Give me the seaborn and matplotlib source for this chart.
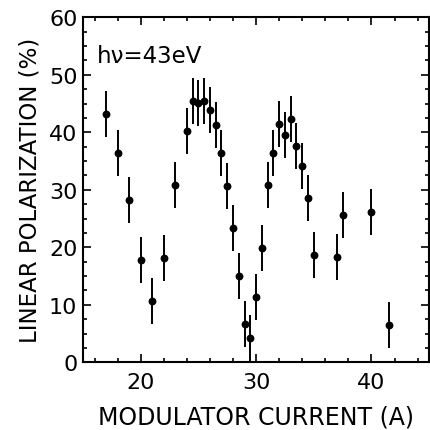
import matplotlib
matplotlib.use("Agg")
import matplotlib.pyplot as plt
import seaborn as sns
import pandas as pd
from matplotlib.ticker import MultipleLocator

# modulator current (A) and measured linear polarization (%)
current = [17, 18, 19, 20, 21, 22, 23, 24, 24.5, 25, 25.5, 26, 26.5, 27, 27.5,
           28, 28.5, 29, 29.5, 30, 30.5, 31, 31.5, 32, 32.5, 33, 33.5, 34, 34.5,
           35, 37, 37.5, 40, 41.5]
polarization = [43.2, 36.4, 28.2, 17.8, 10.7, 18.1, 30.8, 40.2, 45.5, 45.1, 45.4,
                43.9, 41.3, 36.4, 30.7, 23.3, 15.1, 6.7, 4.2, 11.4, 19.9, 30.8,
                36.4, 41.5, 39.5, 42.3, 37.6, 34.2, 28.5, 18.7, 18.3, 25.7, 26.2, 6.5]
uncertainty = [4.0] * len(current)

df = pd.DataFrame({"current": current, "pol": polarization, "err": uncertainty})

sns.set_style("ticks")
plt.rcParams["font.family"] = ["DejaVu Sans"]
plt.rcParams["text.color"] = "black"
plt.rcParams["axes.labelcolor"] = "black"

fig = plt.figure(figsize=(4.30, 4.31), dpi=100)
ax = fig.add_axes([0.193, 0.157, 0.805, 0.8005])

ax.errorbar(df["current"], df["pol"], yerr=df["err"], fmt="none",
            ecolor="black", elinewidth=1.4, capsize=0, zorder=2)
sns.scatterplot(data=df, x="current", y="pol", ax=ax, color="black",
                s=32, edgecolor="black", linewidth=0, zorder=3, legend=False)

ax.set_xlim(15, 45)
ax.set_ylim(0, 60)
ax.xaxis.set_major_locator(MultipleLocator(10))
ax.xaxis.set_minor_locator(MultipleLocator(2))
ax.yaxis.set_major_locator(MultipleLocator(10))
ax.yaxis.set_minor_locator(MultipleLocator(2.5))
ax.tick_params(which="both", direction="in", top=True, right=True,
               labelsize=16, color="black", labelcolor="black", width=1.2)
ax.tick_params(which="major", length=6)
ax.tick_params(axis="y", which="major", pad=4)
ax.tick_params(axis="x", which="major", pad=7)
ax.tick_params(which="minor", length=3)
for sp in ax.spines.values():
    sp.set_linewidth(1.5)
    sp.set_color("black")

ax.set_xlabel("MODULATOR CURRENT (A)", fontsize=17, labelpad=9)
ax.set_ylabel("LINEAR POLARIZATION (%)", fontsize=16.5, labelpad=5)
ax.text(0.04, 0.87, "h\u03bd=43eV", transform=ax.transAxes, fontsize=16.5,
        ha="left", va="baseline")

fig.savefig("out.png", dpi=100)
